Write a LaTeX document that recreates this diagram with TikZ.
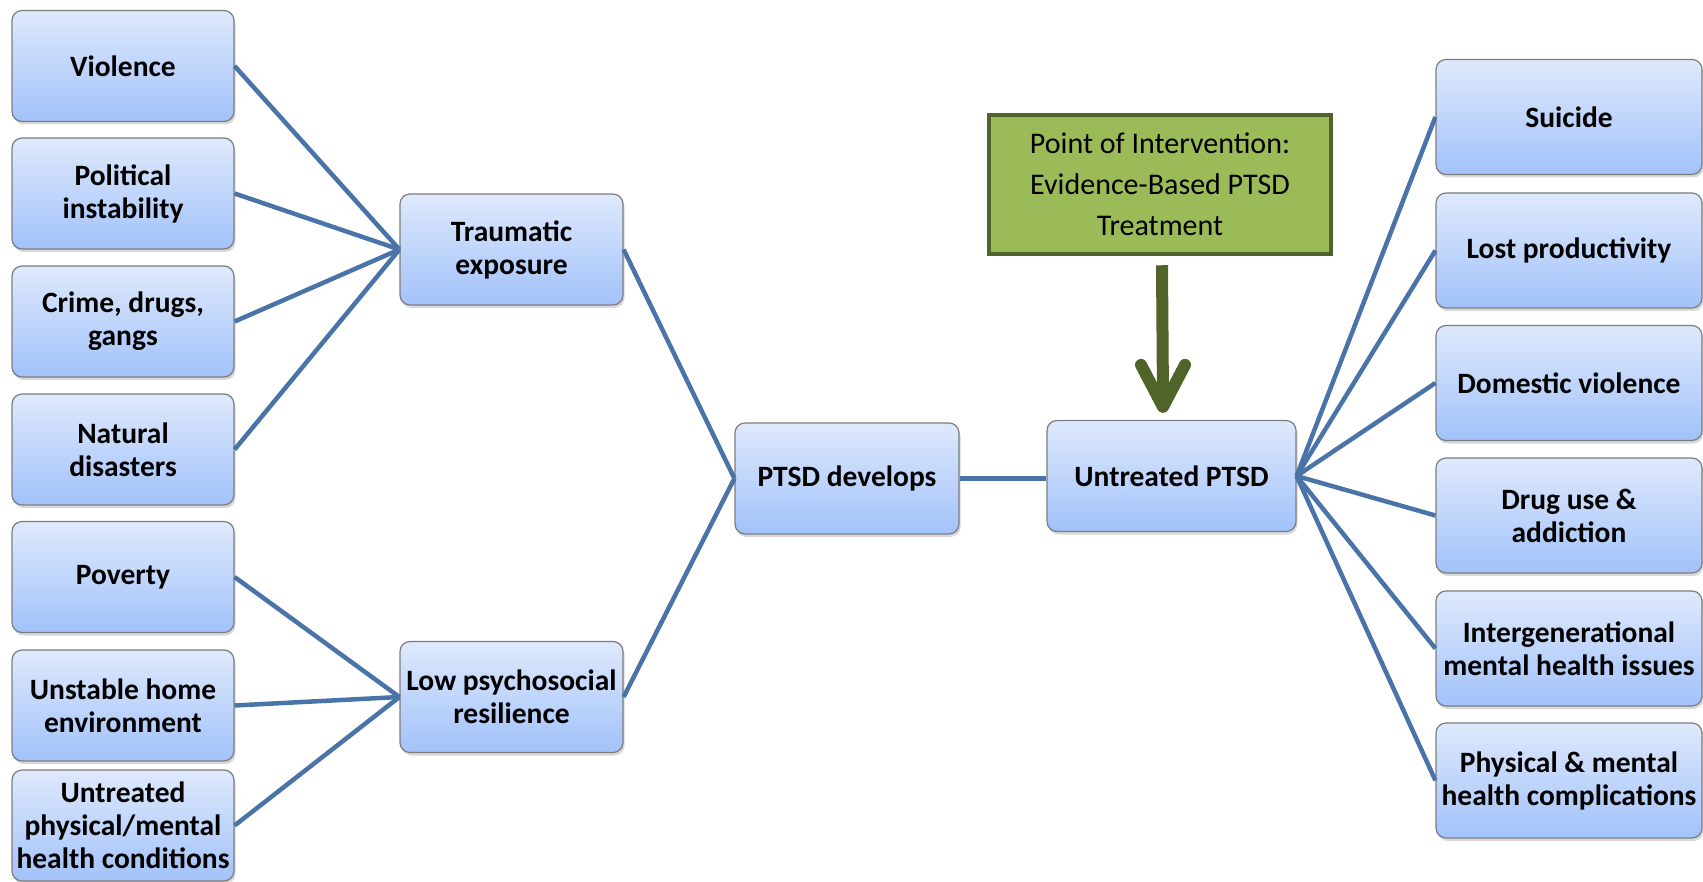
\documentclass[tikz,border=0pt]{standalone}
\usepackage{fontspec}
\setmainfont{Carlito}
\usetikzlibrary{shadows,calc}
\definecolor{lineblue}{RGB}{74,116,168}
\definecolor{boxborder}{RGB}{125,125,125}
\definecolor{boxtop}{RGB}{222,233,252}
\definecolor{boxbot}{RGB}{162,194,250}
\definecolor{greenfill}{RGB}{155,187,89}
\definecolor{greenborder}{RGB}{80,99,40}
\begin{document}
\begin{tikzpicture}[x=1pt,y=-1pt,
  box/.style={draw=boxborder, line width=1.2pt, rounded corners=10pt,
    top color=boxtop, bottom color=boxbot, align=center,
    minimum width=222pt, minimum height=111pt, inner sep=1pt,
    font=\fontsize{29.5}{33}\selectfont\bfseries,
    drop shadow={opacity=0.3, shadow xshift=1.5pt, shadow yshift=-3pt}},
  rbox/.style={box, minimum width=266pt, minimum height=115pt},
  link/.style={draw=lineblue, line width=4.5pt},
  gbox/.style={draw=greenborder, line width=4.5pt, fill=greenfill,
    minimum width=342pt, minimum height=139pt, align=center,
    font=\fontsize{30}{41}\selectfont},
  garrow/.style={draw=greenborder, line width=12pt}]
\useasboundingbox (0,0) rectangle (1703,882);
% left column
\node[box] (violence) at (123,66) {Violence};
\node[box] (political) at (123,193.5) {Political\\instability};
\node[box] (crime) at (123,321.5) {Crime, drugs,\\gangs};
\node[box] (natural) at (123,449.5) {Natural\\disasters};
\node[box] (poverty) at (123,577) {Poverty};
\node[box] (unstable) at (123,705.5) {Unstable home\\environment};
\node[box] (untreatedcond) at (123,825.5) {Untreated\\physical/mental\\health conditions};
% middle
\node[box, minimum width=223pt] (trauma) at (511.5,249.5) {Traumatic\\exposure};
\node[box, minimum width=223pt] (lowres) at (511.5,697) {Low psychosocial\\resilience};
\node[box, minimum width=224pt] (develops) at (847,478.5) {PTSD develops};
\node[box, minimum width=249pt] (untreated) at (1171.5,476) {Untreated PTSD};
\node[gbox] (green) at (1160,184.5) {Point of Intervention:\\Evidence-Based PTSD\\Treatment};
% right column
\node[rbox] (suicide) at (1569,117) {Suicide};
\node[rbox] (lost) at (1569,250.5) {Lost productivity};
\node[rbox] (domestic) at (1569,383) {Domestic violence};
\node[rbox] (drug) at (1569,515.5) {Drug use \&\\addiction};
\node[rbox] (intergen) at (1569,648.5) {Intergenerational\\mental health issues};
\node[rbox] (physical) at (1569,780.5) {Physical \& mental\\health complications};
% connectors
\foreach \n in {violence,political,crime,natural}
  \draw[link] (\n.east) -- (trauma.west);
\foreach \n in {poverty,unstable,untreatedcond}
  \draw[link] (\n.east) -- (lowres.west);
\draw[link] (trauma.east) -- (develops.west);
\draw[link] (lowres.east) -- (develops.west);
\draw[link] (develops.east) -- (untreated.west |- develops.east);
\foreach \n in {suicide,lost,domestic,drug,intergen,physical}
  \draw[link] (untreated.east) -- (\n.west);
% intervention arrow
\coordinate (atop) at ($(green.south)+(2,9)$);
\coordinate (atip) at ($(untreated.north)+(-8.5,-13)$);
\draw[garrow] (atop) -- ($(atip)+(0,-6)$);
\draw[garrow, line cap=round, line join=round]
  ($(atip)+(-22,-42)$) -- (atip) -- ($(atip)+(22,-42)$);
\end{tikzpicture}
\end{document}
